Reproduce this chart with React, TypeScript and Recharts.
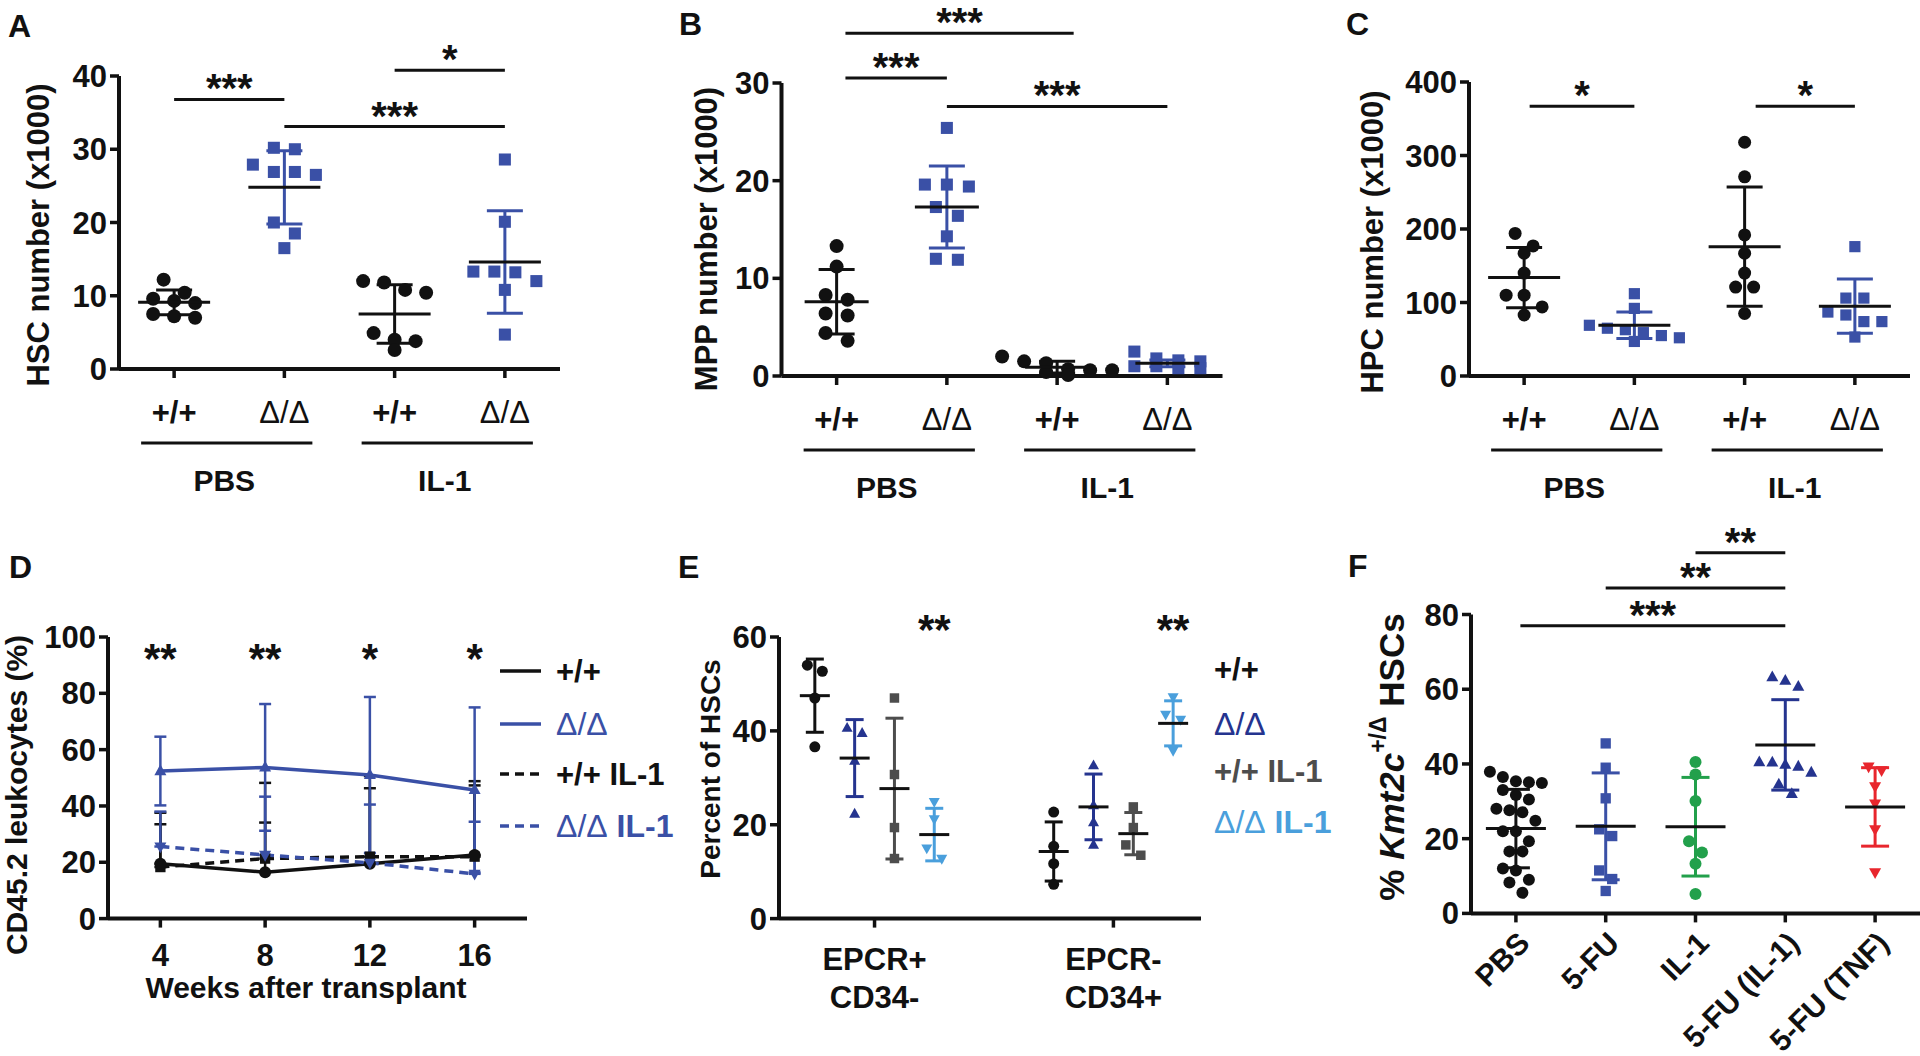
import React from 'react';
import {
  ComposedChart, Scatter, Line, XAxis, YAxis, ErrorBar, ReferenceLine, ReferenceDot,
} from 'recharts';

const FONT = '"Liberation Sans", Arial, Helvetica, sans-serif';
const INK = '#111111';
const BLUE = '#3a50a6';
const NAVY = '#25348f';
const SKY = '#4a9fdc';
const GREY = '#4d4d4d';
const GREEN = '#22a04b';
const RED = '#e8262d';

// shared category labels (A-C)
const genotypes = ['+/+', 'Δ/Δ', '+/+', 'Δ/Δ'];
const treatments = ['PBS', 'IL-1'];

// A: HSC number (x1000)
const hscPbsWt = [12.2, 10.4, 9.6, 9.3, 9.0, 7.5, 7.2, 7.0];
const hscPbsKo = [30.2, 30.0, 27.9, 26.9, 26.9, 26.5, 20.0, 18.5, 16.5];
const hscIl1Wt = [12.0, 11.8, 10.8, 10.4, 4.9, 4.0, 3.8, 2.6];
const hscIl1Ko = [28.6, 20.1, 13.3, 13.3, 13.2, 12.0, 10.8, 4.7];
const hscMean = [9.1, 24.8, 7.5, 14.6];
const hscSd = [1.7, 5.0, 4.0, 7.0];
const hscBrackets = [
  { from: 1, to: 2, y: 36.8, label: '***' },
  { from: 3, to: 4, y: 40.8, label: '*' },
  { from: 2, to: 4, y: 33.1, label: '***' },
];

// B: MPP number (x1000)
const mppPbsWt = [13.3, 11.2, 8.3, 7.8, 6.4, 6.2, 4.4, 3.6];
const mppPbsKo = [25.4, 19.6, 19.6, 19.4, 17.3, 16.4, 14.3, 12.0, 11.9];
const mppIl1Wt = [2.0, 1.5, 1.3, 0.7, 0.6, 0.6, 0.4, 0.1];
const mppIl1Ko = [2.5, 1.8, 1.6, 1.5, 1.0, 1.0, 0.8, 0.8];
const mppMean = [7.6, 17.3, 0.9, 1.3];
const mppSd = [3.3, 4.2, 0.6, 0.35];
const mppBrackets = [
  { from: 1.08, to: 3.15, y: 35.1, label: '***' },
  { from: 1.08, to: 2.0, y: 30.5, label: '***' },
  { from: 2.0, to: 4.0, y: 27.6, label: '***' },
];

// C: HPC number (x1000)
const hpcPbsWt = [194, 177, 167, 140, 110, 110, 94, 83];
const hpcPbsKo = [112, 92, 69, 65, 63, 59, 55, 52, 47];
const hpcIl1Wt = [318, 271, 192, 167, 140, 121, 121, 85];
const hpcIl1Ko = [176, 106, 106, 87, 83, 74, 74, 53];
const hpcMean = [134, 69, 176, 95];
const hpcSd = [41, 18, 81, 37];
const hpcBrackets = [
  { from: 1.05, to: 2.0, y: 367, label: '*' },
  { from: 3.1, to: 4.0, y: 367, label: '*' },
];

// D: CD45.2 leukocytes (%) over weeks
const weeks = [4, 8, 12, 16];
const wtMean = [19.5, 16.5, 19.5, 22.6];
const wtSd = [14.0, 17.6, 26.8, 24.7];
const koMean = [52.4, 53.7, 51.0, 45.7];
const koSd = [12.2, 22.5, 27.7, 29.3];
const wtIl1Mean = [18.3, 21.3, 22.0, 22.0];
const wtIl1Sd = [19.3, 26.9, 28.6, 26.8];
const koIl1Mean = [25.6, 22.6, 19.8, 15.9];
const koIl1Sd = [12.4, 20.7, 20.7, 18.5];
const weekStars = ['**', '**', '*', '*'];

// E: percent of HSCs
const epcrLabels = [['EPCR+', 'CD34-'], ['EPCR-', 'CD34+']];
const ePosWt = [54.0, 52.7, 47.0, 36.6];
const ePosKo = [40.6, 39.5, 33.6, 22.3];
const ePosWtIl1 = [47.0, 30.7, 19.4, 12.8];
const ePosKoIl1 = [24.9, 21.2, 15.0, 12.8];
const eNegWt = [22.7, 15.4, 11.7, 7.3];
const eNegKo = [32.6, 24.1, 20.5, 15.7];
const eNegWtIl1 = [23.8, 19.4, 15.7, 13.5];
const eNegKoIl1 = [47.2, 43.5, 42.4, 35.8];
const eMean = [47.5, 34.2, 27.7, 17.9, 14.3, 23.8, 18.1, 41.6];
const eSd = [7.8, 8.2, 15.0, 5.6, 6.3, 7.0, 4.5, 4.8];
const eStars = [{ x: 4, label: '**' }, { x: 10, label: '**' }];

// F: % Kmt2c+/Δ HSCs
const fGroups = ['PBS', '5-FU', 'IL-1', '5-FU (IL-1)', '5-FU (TNF)'];
const fPbs = [37.9, 36.5, 35.4, 35.1, 34.9, 33.0, 31.7, 30.5, 28.0, 27.6, 27.1, 24.8, 22.0, 22.0, 19.3, 16.6, 16.6, 12.0, 11.5, 9.0, 8.3, 5.5];
const f5fu = [45.5, 39.0, 30.8, 22.5, 20.7, 11.5, 9.2, 6.0];
const fIl1 = [40.5, 37.2, 30.1, 19.3, 16.3, 13.3, 5.2];
const f5fuIl1 = [63.2, 62.3, 60.7, 40.5, 40.4, 39.8, 39.3, 37.7, 34.5, 32.0];
const f5fuTnf = [39.3, 38.3, 34.0, 29.4, 22.5, 11.0];
const fMean = [22.7, 23.3, 23.2, 45.1, 28.5];
const fSd = [10.5, 14.3, 13.2, 12.1, 10.5];
const fBrackets = [
  { from: 3, to: 4, y: 96.5, label: '**' },
  { from: 2, to: 4, y: 87.1, label: '**' },
  { from: 1.05, to: 4, y: 77, label: '***' },
];

type Kind = 'circle' | 'square' | 'up' | 'down';

function marker(kind: Kind, color: string, s: number) {
  return (p: any) => {
    const { cx, cy } = p;
    if (cx == null || cy == null) return <g />;
    if (kind === 'circle') return <circle cx={cx} cy={cy} r={s / 2} fill={color} />;
    if (kind === 'square') {
      const q = s * 0.86;
      return <rect x={cx - q / 2} y={cy - q / 2} width={q} height={q} fill={color} />;
    }
    const h = s * 0.9;
    const pts = kind === 'up'
      ? `${cx},${cy - h * 0.62} ${cx - s / 2},${cy + h * 0.38} ${cx + s / 2},${cy + h * 0.38}`
      : `${cx},${cy + h * 0.62} ${cx - s / 2},${cy - h * 0.38} ${cx + s / 2},${cy - h * 0.38}`;
    return <polygon points={pts} fill={color} />;
  };
}

const meanLine = (half: number) => (p: any) => (
  <line x1={p.cx - half} x2={p.cx + half} y1={p.cy} y2={p.cy} stroke={INK} strokeWidth={3} />
);

// spread points that would overlap into centred rows (pixel offsets)
function swarm(values: number[], pxY: number, size: number, step: number) {
  const order = values.map((_, i) => i).sort((a, b) => values[b] - values[a]);
  const off = values.map(() => 0);
  let row: number[] = [];
  const flush = () => {
    row.forEach((k, j) => { off[k] = (j - (row.length - 1) / 2) * step; });
    row = [];
  };
  order.forEach((k) => {
    if (row.length && (values[row[0]] - values[k]) * pxY > size) flush();
    row.push(k);
  });
  flush();
  return off;
}

const txt = (size: number, weight: number | string, fill = INK) => ({
  fontFamily: FONT, fontSize: size, fontWeight: weight, fill,
});

const genotypeTick = (bottom: number, spacing: number) => (p: any) => {
  const i = Math.round(p.payload.value) - 1;
  const g = genotypes[i];
  const delta = g.indexOf('Δ') >= 0;
  return (
    <g>
      <text x={p.x} y={bottom + 43} textAnchor="middle" dominantBaseline="central" {...txt(31, delta ? 400 : 700)}>{g}</text>
      {i % 2 === 0 ? (
        <g>
          <line x1={p.x - 33} x2={p.x + spacing + 28} y1={bottom + 74} y2={bottom + 74} stroke={INK} strokeWidth={3} />
          <text x={p.x + spacing / 2 - 5} y={bottom + 111} textAnchor="middle" dominantBaseline="central" {...txt(30, 700)}>{treatments[i / 2]}</text>
        </g>
      ) : null}
    </g>
  );
};

const epcrTick = (bottom: number) => (p: any) => {
  const i = p.payload.value < 5 ? 0 : 1;
  return (
    <g>
      <text x={p.x} y={bottom + 41} textAnchor="middle" dominantBaseline="central" {...txt(31, 700)}>{epcrLabels[i][0]}</text>
      <text x={p.x} y={bottom + 79} textAnchor="middle" dominantBaseline="central" {...txt(31, 700)}>{epcrLabels[i][1]}</text>
    </g>
  );
};

const fTick = (bottom: number) => (p: any) => {
  const i = Math.round(p.payload.value) - 1;
  return (
    <text transform={`translate(${p.x + 8},${bottom + 24}) rotate(-45)`} textAnchor="end" dominantBaseline="central" {...txt(30, 700)}>
      {fGroups[i]}
    </text>
  );
};

const axisLine = { stroke: INK, strokeWidth: 4 };
const tickLine = { stroke: INK, strokeWidth: 3.5 };
const STAR = 40;

function DotPanel(props: any) {
  const {
    box, plot, yDomain, yTicks, xDomain, xTicks, groups, means, sds, brackets = [], stars = [],
    size, step, meanHalf, capHalf, tick, starY,
  } = props;
  const pxX = (plot.r - plot.l) / (xDomain[1] - xDomain[0]);
  const pxY = (plot.b - plot.t) / (yDomain[1] - yDomain[0]);
  const bottom = plot.b - box.t;
  return (
    <div style={{ position: 'absolute', left: box.l, top: box.t }}>
      <ComposedChart
        width={box.w}
        height={box.h}
        margin={{ top: plot.t - box.t, right: box.l + box.w - plot.r, bottom: 0, left: 0 }}
      >
        <XAxis
          type="number" dataKey="x" domain={xDomain} ticks={xTicks} interval={0}
          height={box.t + box.h - plot.b} axisLine={axisLine} tickLine={tickLine} tickSize={9}
          tick={tick(bottom, pxX)}
        />
        <YAxis
          type="number" dataKey="y" domain={yDomain} ticks={yTicks} interval={0}
          width={plot.l - box.l} axisLine={axisLine} tickLine={tickLine} tickSize={9} tickMargin={3}
          tick={txt(31, 700)}
        />
        {groups.map((g: any, gi: number) => {
          const off = swarm(g.values, pxY, size, step);
          const data = g.values.map((v: number, i: number) => ({ x: g.x + off[i] / pxX, y: v }));
          return <Scatter key={'p' + gi} data={data} shape={marker(g.marker, g.color, size)} isAnimationActive={false} />;
        })}
        {groups.map((g: any, gi: number) => (
          <Scatter
            key={'m' + gi}
            data={[{ x: g.x, y: means[gi], err: sds[gi] }]}
            shape={meanLine(meanHalf)}
            isAnimationActive={false}
          >
            <ErrorBar dataKey="err" direction="y" width={capHalf} stroke={g.bar} strokeWidth={3} />
          </Scatter>
        ))}
        {brackets.map((b: any, i: number) => (
          <ReferenceLine
            key={'b' + i}
            segment={[{ x: b.from, y: b.y }, { x: b.to, y: b.y }]}
            stroke={INK}
            strokeWidth={3}
            ifOverflow="visible"
            label={{ value: b.label, position: 'top', offset: -3, ...txt(STAR, 700) }}
          />
        ))}
        {stars.map((s: any, i: number) => (
          <ReferenceDot
            key={'s' + i}
            x={s.x}
            y={starY}
            r={1}
            fill="none"
            stroke="none"
            ifOverflow="visible"
            label={{ value: s.label, position: 'center', ...txt(STAR + 2, 700) }}
          />
        ))}
      </ComposedChart>
    </div>
  );
}

const dSeries = [
  { mean: wtIl1Mean, sd: wtIl1Sd, color: INK, dash: '9 6', marker: 'square' as Kind, both: false },
  { mean: wtMean, sd: wtSd, color: INK, dash: undefined, marker: 'circle' as Kind, both: false },
  { mean: koIl1Mean, sd: koIl1Sd, color: BLUE, dash: '9 6', marker: 'down' as Kind, both: false },
  { mean: koMean, sd: koSd, color: BLUE, dash: undefined, marker: 'up' as Kind, both: true },
];

function LinePanel() {
  const box = { l: 0, t: 540, w: 560, h: 516 };
  const plot = { l: 108, r: 527, t: 637, b: 918.6 };
  const bottom = plot.b - box.t;
  return (
    <div style={{ position: 'absolute', left: box.l, top: box.t }}>
      <ComposedChart
        width={box.w}
        height={box.h}
        margin={{ top: plot.t - box.t, right: box.l + box.w - plot.r, bottom: 0, left: 0 }}
      >
        <XAxis
          type="number" dataKey="x" domain={[2, 18]} ticks={weeks} interval={0}
          height={box.t + box.h - plot.b} axisLine={axisLine} tickLine={tickLine} tickSize={9}
          tick={(p: any) => (
            <text x={p.x} y={bottom + 37} textAnchor="middle" dominantBaseline="central" {...txt(31, 700)}>{p.payload.value}</text>
          )}
        />
        <YAxis
          type="number" dataKey="y" domain={[0, 100]} ticks={[0, 20, 40, 60, 80, 100]} interval={0}
          width={plot.l - box.l} axisLine={axisLine} tickLine={tickLine} tickSize={9} tickMargin={3}
          tick={txt(31, 700)}
        />
        {dSeries.map((s, si) => (
          <Line
            key={si}
            data={weeks.map((w, i) => ({ x: w, y: s.mean[i], err: s.both ? s.sd[i] : [0, s.sd[i]] }))}
            dataKey="y"
            stroke={s.color}
            strokeWidth={3.5}
            strokeDasharray={s.dash}
            dot={marker(s.marker, s.color, 12)}
            activeDot={false}
            isAnimationActive={false}
          >
            <ErrorBar dataKey="err" direction="y" width={6} stroke={s.color} strokeWidth={2.5} />
          </Line>
        ))}
        {weeks.map((w, i) => (
          <ReferenceDot
            key={'s' + i}
            x={w}
            y={92.6}
            r={1}
            fill="none"
            stroke="none"
            ifOverflow="visible"
            label={{ value: weekStars[i], position: 'center', ...txt(STAR + 2, 700) }}
          />
        ))}
      </ComposedChart>
    </div>
  );
}

function Annotations() {
  const title = (x: number, y: number, text: string, size: number) => (
    <text transform={`translate(${x},${y}) rotate(-90)`} textAnchor="middle" dominantBaseline="central" {...txt(size, 700)}>{text}</text>
  );
  const letter = (x: number, y: number, t: string) => <text x={x} y={y} {...txt(32, 700)}>{t}</text>;
  const dRows = [671, 724, 774, 826];
  const eRows = [669, 724, 771, 822];
  return (
    <svg width={1920} height={1056} style={{ position: 'absolute', left: 0, top: 0, pointerEvents: 'none' }}>
      {letter(8, 37, 'A')}
      {letter(679, 35, 'B')}
      {letter(1346, 35, 'C')}
      {letter(9, 578, 'D')}
      {letter(678, 578, 'E')}
      {letter(1348, 577, 'F')}
      {title(38, 235, 'HSC number (x1000)', 31)}
      {title(706, 239, 'MPP number (x1000)', 31)}
      {title(1372, 242, 'HPC number (x1000)', 31)}
      {title(16, 795, 'CD45.2 leukocytes (%)', 30)}
      {title(710, 769, 'Percent of HSCs', 28)}
      <text transform="translate(1391,757) rotate(-90)" textAnchor="middle" dominantBaseline="central" {...txt(35, 700)}>
        <tspan>% </tspan>
        <tspan fontStyle="italic">Kmt2c</tspan>
        <tspan fontSize={23} dy={-13}>+/Δ</tspan>
        <tspan dy={13}> HSCs</tspan>
      </text>
      <text x={306} y={987} textAnchor="middle" dominantBaseline="central" {...txt(30, 700)}>Weeks after transplant</text>

      {/* legend D */}
      <line x1={500} x2={541} y1={dRows[0]} y2={dRows[0]} stroke={INK} strokeWidth={3.5} />
      <text x={556} y={dRows[0]} dominantBaseline="central" {...txt(31, 700)}>+/+</text>
      <line x1={500} x2={541} y1={dRows[1]} y2={dRows[1]} stroke={BLUE} strokeWidth={3.5} />
      <text x={556} y={dRows[1]} dominantBaseline="central" {...txt(32, 400, BLUE)}>Δ/Δ</text>
      <line x1={500} x2={541} y1={dRows[2]} y2={dRows[2]} stroke={INK} strokeWidth={3.5} strokeDasharray="9 6" />
      <text x={556} y={dRows[2]} dominantBaseline="central" {...txt(31, 700)}>+/+ IL-1</text>
      <line x1={500} x2={541} y1={dRows[3]} y2={dRows[3]} stroke={BLUE} strokeWidth={3.5} strokeDasharray="9 6" />
      <text x={556} y={dRows[3]} dominantBaseline="central" {...txt(32, 400, BLUE)}>
        Δ/Δ<tspan fontWeight={700}> IL-1</tspan>
      </text>

      {/* legend E */}
      <text x={1214} y={eRows[0]} dominantBaseline="central" {...txt(31, 700)}>+/+</text>
      <text x={1214} y={eRows[1]} dominantBaseline="central" {...txt(32, 400, NAVY)}>Δ/Δ</text>
      <text x={1214} y={eRows[2]} dominantBaseline="central" {...txt(31, 700, GREY)}>+/+ IL-1</text>
      <text x={1214} y={eRows[3]} dominantBaseline="central" {...txt(32, 400, SKY)}>
        Δ/Δ<tspan fontWeight={700}> IL-1</tspan>
      </text>
    </svg>
  );
}

const abcCommon = {
  xDomain: [0.5, 4.5], xTicks: [1, 2, 3, 4], size: 14, meanHalf: 36, capHalf: 18, tick: genotypeTick,
};

export default function App() {
  return (
    <div style={{ position: 'absolute', left: 0, top: 0, width: 1920, height: 1056, background: '#fff', overflow: 'hidden' }}>
      <DotPanel
        {...abcCommon}
        box={{ l: 0, t: -10, w: 600, h: 540 }}
        plot={{ l: 119, r: 560, t: 76, b: 369 }}
        yDomain={[0, 40]} yTicks={[0, 10, 20, 30, 40]} step={21}
        groups={[
          { x: 1, values: hscPbsWt, marker: 'circle', color: INK, bar: INK },
          { x: 2, values: hscPbsKo, marker: 'square', color: BLUE, bar: BLUE },
          { x: 3, values: hscIl1Wt, marker: 'circle', color: INK, bar: INK },
          { x: 4, values: hscIl1Ko, marker: 'square', color: BLUE, bar: BLUE },
        ]}
        means={hscMean} sds={hscSd} brackets={hscBrackets}
      />
      <DotPanel
        {...abcCommon}
        box={{ l: 640, t: -10, w: 620, h: 540 }}
        plot={{ l: 781.5, r: 1222.5, t: 83, b: 376 }}
        yDomain={[0, 30]} yTicks={[0, 10, 20, 30]} step={22} meanHalf={32}
        groups={[
          { x: 1, values: mppPbsWt, marker: 'circle', color: INK, bar: INK },
          { x: 2, values: mppPbsKo, marker: 'square', color: BLUE, bar: BLUE },
          { x: 3, values: mppIl1Wt, marker: 'circle', color: INK, bar: INK },
          { x: 4, values: mppIl1Ko, marker: 'square', color: BLUE, bar: BLUE },
        ]}
        means={mppMean} sds={mppSd} brackets={mppBrackets}
      />
      <DotPanel
        {...abcCommon}
        box={{ l: 1280, t: -10, w: 640, h: 525 }}
        plot={{ l: 1469, r: 1910, t: 82, b: 376 }}
        yDomain={[0, 400]} yTicks={[0, 100, 200, 300, 400]} step={18} size={13}
        groups={[
          { x: 1, values: hpcPbsWt, marker: 'circle', color: INK, bar: INK },
          { x: 2, values: hpcPbsKo, marker: 'square', color: BLUE, bar: BLUE },
          { x: 3, values: hpcIl1Wt, marker: 'circle', color: INK, bar: INK },
          { x: 4, values: hpcIl1Ko, marker: 'square', color: BLUE, bar: BLUE },
        ]}
        means={hpcMean} sds={hpcSd} brackets={hpcBrackets}
      />
      <LinePanel />
      <DotPanel
        box={{ l: 640, t: 540, w: 600, h: 516 }}
        plot={{ l: 779, r: 1201, t: 637, b: 918.6 }}
        yDomain={[0, 60]} yTicks={[0, 20, 40, 60]}
        xDomain={[0.1, 10.7]} xTicks={[2.5, 8.5]}
        size={11} step={15} meanHalf={15} capHalf={9} tick={epcrTick}
        groups={[
          { x: 1, values: ePosWt, marker: 'circle', color: INK, bar: INK },
          { x: 2, values: ePosKo, marker: 'up', color: NAVY, bar: NAVY },
          { x: 3, values: ePosWtIl1, marker: 'square', color: GREY, bar: GREY },
          { x: 4, values: ePosKoIl1, marker: 'down', color: SKY, bar: SKY },
          { x: 7, values: eNegWt, marker: 'circle', color: INK, bar: INK },
          { x: 8, values: eNegKo, marker: 'up', color: NAVY, bar: NAVY },
          { x: 9, values: eNegWtIl1, marker: 'square', color: GREY, bar: GREY },
          { x: 10, values: eNegKoIl1, marker: 'down', color: SKY, bar: SKY },
        ]}
        means={eMean} sds={eSd} stars={eStars} starY={61.7}
      />
      <DotPanel
        box={{ l: 1280, t: 490, w: 640, h: 566 }}
        plot={{ l: 1471, r: 1920, t: 614.5, b: 913.4 }}
        yDomain={[0, 80]} yTicks={[0, 20, 40, 60, 80]}
        xDomain={[0.5, 5.5]} xTicks={[1, 2, 3, 4, 5]}
        size={12} step={13} meanHalf={30} capHalf={14} tick={fTick}
        groups={[
          { x: 1, values: fPbs, marker: 'circle', color: INK, bar: INK },
          { x: 2, values: f5fu, marker: 'square', color: BLUE, bar: BLUE },
          { x: 3, values: fIl1, marker: 'circle', color: GREEN, bar: GREEN },
          { x: 4, values: f5fuIl1, marker: 'up', color: NAVY, bar: NAVY },
          { x: 5, values: f5fuTnf, marker: 'down', color: RED, bar: RED },
        ]}
        means={fMean} sds={fSd} brackets={fBrackets}
      />
      <Annotations />
    </div>
  );
}
